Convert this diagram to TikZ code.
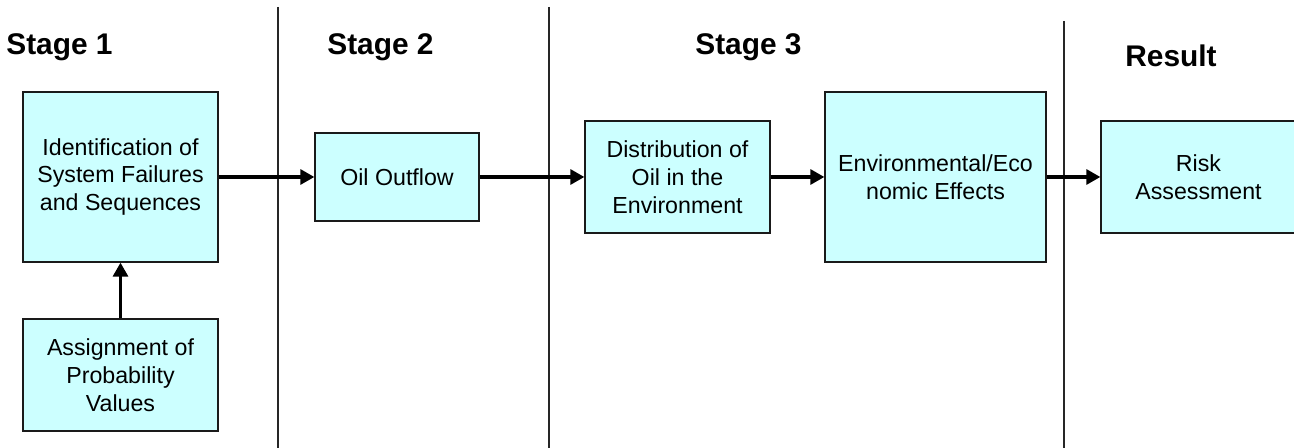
\documentclass[tikz,border=0pt]{standalone}
\usepackage{fontspec}
\setmainfont{Liberation Sans}
\usepackage{tikz}
\usetikzlibrary{shapes, arrows.meta, positioning, calc}

\definecolor{boxfill}{HTML}{CCFFFF}
\definecolor{boxline}{HTML}{1A1A1A}

\tikzset{
  stagebox/.style={draw=boxline, line width=0.7pt, fill=boxfill, rectangle, align=center,
    inner sep=2pt, font=\fontsize{13.2}{15.9}\selectfont},
  stagetitle/.style={anchor=base, font=\fontsize{17}{20}\selectfont\bfseries},
  divider/.style={draw=black!85, line width=0.6pt},
  flow/.style={-{Triangle[length=8pt, width=8.5pt]}, line width=1.9pt}
}

\begin{document}
\begin{tikzpicture}
\useasboundingbox (0,0) rectangle (25.88,-8.96);

% Stage dividers
\foreach \name/\x/\top in {d1/5.56/-0.14, d2/10.98/-0.14, d3/21.28/-0.42} {
   \coordinate (\name top) at (\x, \top);
   \coordinate (\name bot) at (\x, -8.96);
   \draw[divider] (\name top) -- (\name bot);
}

% Stage headings
\node[stagetitle] (s1) at (1.19, -1.10) {Stage 1};
\node[stagetitle] (s2) at (7.61, -1.10) {Stage 2};
\node[stagetitle] (s3) at (14.97, -1.10) {Stage 3};
\node[stagetitle] (res) at (23.42, -1.34) {Result};

% Boxes
\node[stagebox, minimum width=3.9cm, minimum height=3.4cm] (ident) at (2.41, -3.54)
   {Identification of\\System Failures\\and Sequences};
\node[stagebox, minimum width=3.9cm, minimum height=2.24cm] (assign) at (2.41, -7.50)
   {Assignment of\\Probability\\Values};
\node[stagebox, minimum width=3.28cm, minimum height=1.76cm] (oil) at (7.94, -3.54)
   {Oil Outflow};
\node[stagebox, minimum width=3.7cm, minimum height=2.24cm] (dist) at (13.55, -3.54)
   {Distribution of\\Oil in the\\Environment};
\node[stagebox, minimum width=4.42cm, minimum height=3.4cm] (env) at (18.71, -3.54)
   {Environmental/Eco\\nomic Effects};
\node[stagebox, minimum width=3.9cm, minimum height=2.24cm] (risk) at (23.97, -3.54)
   {Risk\\Assessment};

% Connectors
\draw[flow] (assign) -- (ident);
\draw[flow] (ident) -- (oil);
\draw[flow] (oil) -- (dist);
\draw[flow] (dist) -- (env);
\draw[flow] (env) -- (risk);
\end{tikzpicture}
\end{document}
